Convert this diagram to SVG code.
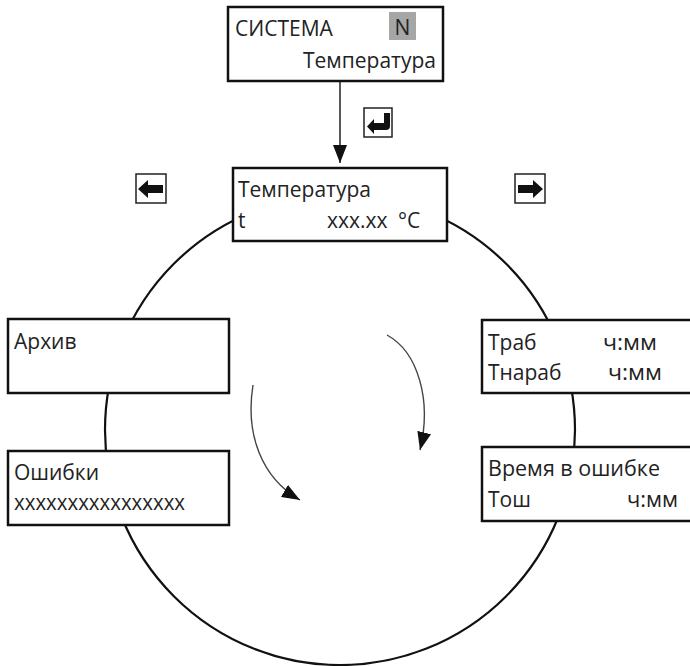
<svg xmlns="http://www.w3.org/2000/svg" width="690" height="666" viewBox="0 0 690 666">
  <style>
    .box { fill: #ffffff; stroke: #111111; stroke-width: 2.5; }
    .icon { fill: #ffffff; stroke: #222222; stroke-width: 1.5; }
    .t { font-family: "Open Sans", "Noto Sans", sans-serif; font-size: 21px; fill: #222222; }
    .conn { fill: none; stroke: #111111; stroke-width: 2.2; }
    .flow { fill: none; stroke: #444444; stroke-width: 1.4; }
  </style>
  <defs>
    <marker id="ah" markerUnits="userSpaceOnUse" markerWidth="20" markerHeight="14" refX="18" refY="7" orient="auto">
      <path d="M0,0 L18,7 L0,14 Z" fill="#111111"/>
    </marker>
  </defs>
  <rect width="690" height="666" fill="#ffffff"/>

  <g id="connectors">
    <circle class="conn" cx="340" cy="430" r="235"/>
    <line x1="340" y1="81" x2="340" y2="163" stroke="#222222" stroke-width="1.5" marker-end="url(#ah)"/>
    <path class="flow" d="M253,385 C245,435 262,478 300,500" marker-end="url(#ah)"/>
    <path class="flow" d="M387,335 C418,352 432,400 420,450" marker-end="url(#ah)"/>
  </g>

  <g id="system">
    <rect class="box" x="228" y="7" width="215" height="74"/>
    <text class="t" x="235" y="36">СИСТЕМА</text>
    <rect x="389" y="12" width="27" height="28" fill="#a6a6a6"/>
    <text class="t" x="402.5" y="35" text-anchor="middle" fill="#333333">N</text>
    <text class="t" x="436" y="68" text-anchor="end">Температура</text>
  </g>

  <g id="enter-key">
    <rect class="icon" x="364" y="108" width="28" height="29"/>
    <path d="M384,113 L390,113 L390,126 Q390,130 386,130 L374,130 L374,134 L367,126.5 L374,119 L374,123 L384,123 Z" fill="#111111"/>
  </g>

  <g id="left-key">
    <rect class="icon" x="136" y="174" width="30" height="29"/>
    <path d="M138,189 L148,180 L148,185 L163,185 L163,193 L148,193 L148,198 Z" fill="#111111"/>
  </g>

  <g id="right-key">
    <rect class="icon" x="515" y="174" width="30" height="29"/>
    <path d="M543,189 L533,180 L533,185 L518,185 L518,193 L533,193 L533,198 Z" fill="#111111"/>
  </g>

  <g id="temperature">
    <rect class="box" x="233" y="168" width="214" height="73"/>
    <text class="t" x="238" y="197">Температура</text>
    <text class="t" x="238" y="228">t</text>
    <text class="t" x="327" y="228">xxx.xx</text>
    <text class="t" x="398" y="228">°C</text>
  </g>

  <g id="archive">
    <rect class="box" x="8" y="319" width="221" height="74"/>
    <text class="t" x="14" y="349">Архив</text>
  </g>

  <g id="errors">
    <rect class="box" x="8" y="451" width="221" height="74"/>
    <text class="t" x="14" y="480">Ошибки</text>
    <text class="t" x="14" y="510" textLength="171" lengthAdjust="spacingAndGlyphs">xxxxxxxxxxxxxxxx</text>
  </g>

  <g id="runtime">
    <rect class="box" x="482" y="320" width="220" height="73"/>
    <text class="t" x="488" y="350">Траб</text>
    <text class="t" x="603" y="350" textLength="54" lengthAdjust="spacingAndGlyphs">ч:мм</text>
    <text class="t" x="488" y="380">Тнараб</text>
    <text class="t" x="608" y="380" textLength="54" lengthAdjust="spacingAndGlyphs">ч:мм</text>
  </g>

  <g id="error-time">
    <rect class="box" x="482" y="447" width="220" height="74"/>
    <text class="t" x="488" y="476" textLength="172" lengthAdjust="spacingAndGlyphs">Время в ошибке</text>
    <text class="t" x="488" y="507">Тош</text>
    <text class="t" x="627" y="507" textLength="51" lengthAdjust="spacingAndGlyphs">ч:мм</text>
  </g>
</svg>
